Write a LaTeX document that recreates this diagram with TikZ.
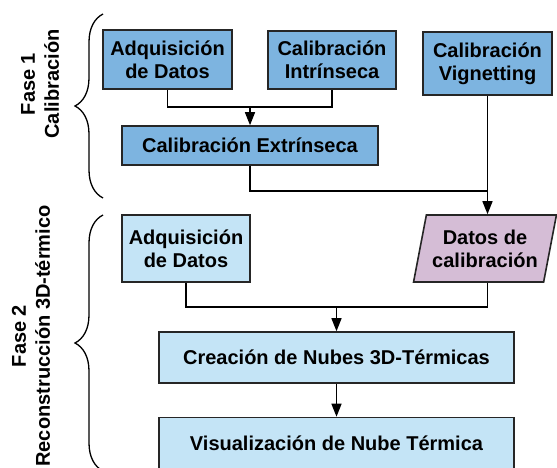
\documentclass[tikz,border=0pt]{standalone}
\usepackage{fontspec}
\setmainfont{Liberation Sans}
\usetikzlibrary{arrows.meta,shapes.geometric,decorations.pathreplacing}
\definecolor{faseuno}{HTML}{7DB4E0}
\definecolor{fasedos}{HTML}{C4E4F6}
\definecolor{datoscal}{HTML}{D5BDD6}
\tikzset{
  caja/.style={draw=black!85, line width=1.6pt, align=center, inner sep=0pt, font=\fontsize{20}{23}\selectfont\bfseries},
  flecha/.style={line width=1.5pt, -{Triangle[length=13pt,width=10pt]}},
  linea/.style={line width=1.5pt},
  llave/.style={decorate, decoration={brace, amplitude=28pt}, line width=1.3pt},
  etiqueta/.style={align=center, font=\fontsize{20}{24}\selectfont\bfseries}
}
\begin{document}
\begin{tikzpicture}[x=1pt, y=1pt]
        \useasboundingbox (0,0) rectangle (557,-468);
        \node[caja, fill=faseuno, minimum width=129pt, minimum height=59pt] (adqA) at (167.5,-59.5) {Adquisición\\de Datos};
        \node[caja, fill=faseuno, minimum width=128pt, minimum height=58pt] (intr) at (332,-60) {Calibración\\Intrínseca};
        \node[caja, fill=faseuno, minimum width=129pt, minimum height=63pt] (vign) at (487.5,-63.5) {Calibración\\Vignetting};
        \node[caja, fill=faseuno, minimum width=256pt, minimum height=39pt] (extr) at (250,-145.5) {Calibración Extrínseca};
        \node[caja, fill=datoscal, trapezium, trapezium stretches=true, trapezium left angle=73, trapezium right angle=107, minimum width=143pt, minimum height=67pt] (datos) at (485,-248.5) {Datos de\\calibración};
        \node[caja, fill=fasedos, minimum width=128pt, minimum height=67pt] (adqB) at (186,-248.5) {Adquisición\\de Datos};
        \node[caja, fill=fasedos, minimum width=355pt, minimum height=51pt] (crea) at (336.5,-357.5) {Creación de Nubes 3D-Térmicas};
        \node[caja, fill=fasedos, minimum width=355pt, minimum height=51pt] (visu) at (336.5,-443) {Visualización de Nube Térmica};
        \coordinate (j1) at (extr.north |- 0,-107);
        \coordinate (j2) at (vign.south |- 0,-191);
        \coordinate (j3) at (crea.north |- 0,-307);
        \draw[linea] (adqA.south) |- (j1) -| (intr.south);
        \draw[flecha] (j1) -- (extr.north);
        \draw[linea] (extr.south) |- (j2);
        \draw[flecha] (vign.south) -- (vign.south |- datos.north);
        \draw[linea] (adqB.south) |- (j3) -| (vign.south |- datos.south);
        \draw[flecha] (j3) -- (crea.north);
        \draw[flecha] (crea.south) -- (visu.north);
        \draw[llave] (103,-198) -- (103,-14);
        \draw[llave] (103,-471) -- (103,-215);
        \node[etiqueta, rotate=90] (fase1) at (40,-84) {Fase 1\\Calibración};
        \node[etiqueta, rotate=90] (fase2) at (31,-336) {Fase 2\\Reconstrucción 3D-térmico};
    \end{tikzpicture}
\end{document}
